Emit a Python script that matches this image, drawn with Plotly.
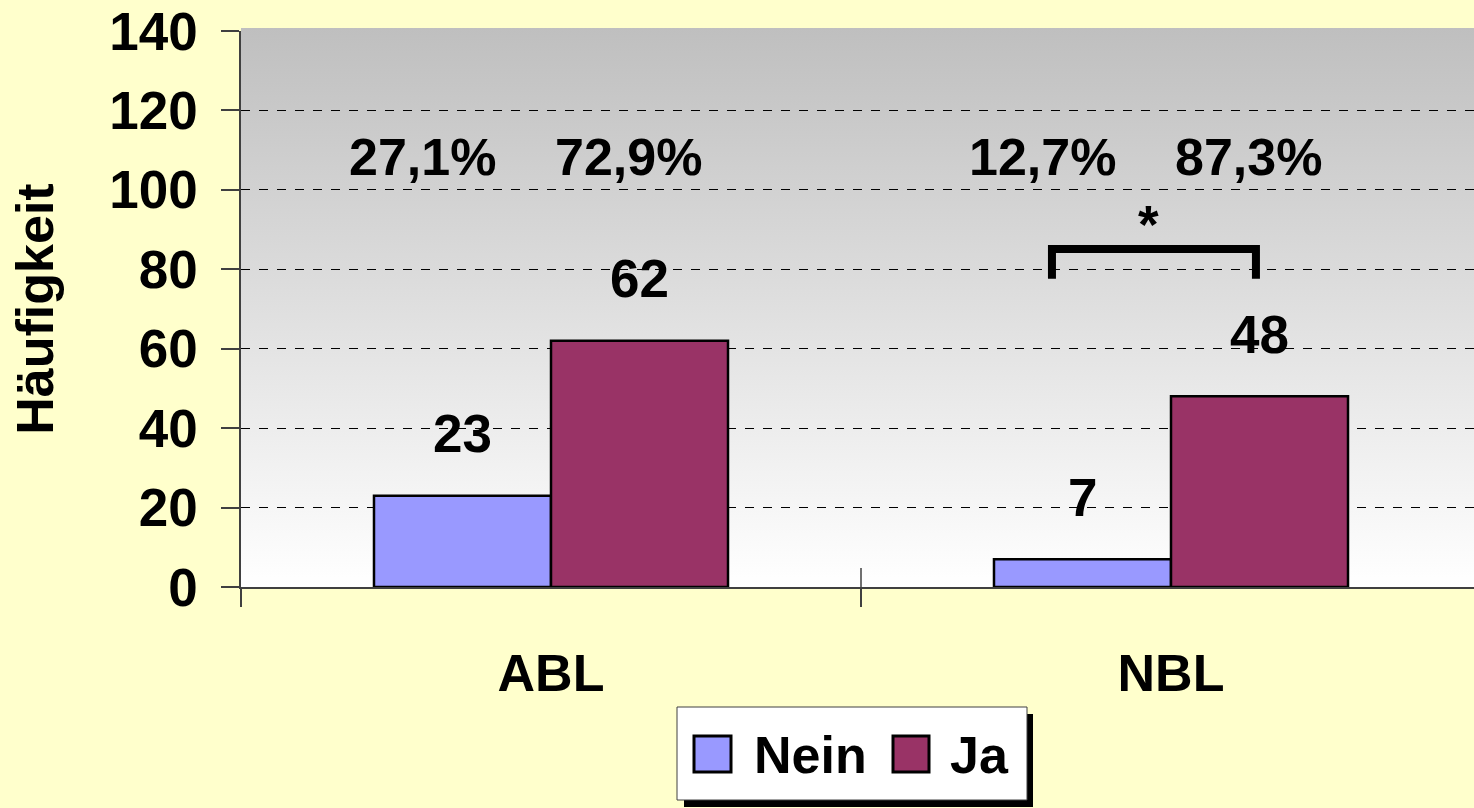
import base64
import plotly.graph_objects as go

categories = ["ABL", "NBL"]
series_names = ["Nein", "Ja"]
nein_values = [23, 7]
ja_values = [62, 48]
series_colors = ["#9999FF", "#993366"]
y_ticks = [0, 20, 40, 60, 80, 100, 120, 140]

FONT = "Liberation Sans, Arial, sans-serif"
W, H = 1474, 808
ML, MT, MB = 241, 31, 221
PW = W - ML
PH = H - MT - MB
CAT_PX = 620.0
BARGAP = 0.429

fig = go.Figure()
for name, vals, col in zip(series_names, [nein_values, ja_values], series_colors):
    fig.add_trace(go.Bar(
        x=categories, y=vals, name=name,
        marker=dict(color=col, line=dict(color="black", width=2.5)),
        showlegend=False,
    ))

# smooth gradient background via svg image
svg = ('<svg xmlns="http://www.w3.org/2000/svg" width="100" height="100" preserveAspectRatio="none">'
       '<defs><linearGradient id="g" x1="0" y1="0" x2="0" y2="1">'
       '<stop offset="0" stop-color="#BFBFBF"/><stop offset="1" stop-color="#FFFFFF"/>'
       '</linearGradient></defs><rect width="100" height="100" fill="url(#g)"/></svg>')
svg_uri = "data:image/svg+xml;base64," + base64.b64encode(svg.encode()).decode()
ext = 3 / PH
images = [dict(source=svg_uri, xref="paper", yref="paper", x=0, y=1 + ext,
               sizex=1, sizey=1 + ext, sizing="stretch", xanchor="left", yanchor="top",
               layer="below")]

shapes = []
annotations = []
half = (1 - BARGAP) / 4.0
totals = [a + b for a, b in zip(nein_values, ja_values)]
for i, cat in enumerate(categories):
    for j, vals in enumerate([nein_values, ja_values]):
        xc = i + (-half if j == 0 else half)
        annotations.append(dict(x=xc, y=vals[i], xref="x", yref="y", text=str(vals[i]),
                                showarrow=False, yanchor="middle", yshift=62,
                                font=dict(family=FONT, size=53, color="black", weight="bold")))
        pct = vals[i] / totals[i] * 100
        pct_txt = f"{pct:.1f}%".replace(".", ",")
        xo = -0.208 if j == 0 else 0.125
        annotations.append(dict(x=i + xo, y=107.5, xref="x", yref="y", text=pct_txt,
                                showarrow=False, yanchor="middle", yshift=3,
                                font=dict(family=FONT, size=52, color="black", weight="bold")))

# significance bracket
shapes.append(dict(type="path", xref="x", yref="y",
                   path="M 0.808,77.6 L 0.808,85.1 L 1.137,85.1 L 1.137,77.6",
                   line=dict(color="black", width=8)))
annotations.append(dict(x=0.963, y=92.7, xref="x", yref="y", text="*", showarrow=False,
                        yanchor="middle", yshift=-6,
                        font=dict(family=FONT, size=53, color="black", weight="bold")))

# cross tick upward part at category boundary
shapes.append(dict(type="line", xref="x", yref="paper", x0=0.5, x1=0.5, y0=0, y1=19 / PH,
                   line=dict(color="#404040", width=1.5)))

# custom legend
def px_x(px):
    return (px - ML) / PW

def px_y(py):
    return (H - MB - py) / PH

shapes.append(dict(type="rect", xref="paper", yref="paper", x0=px_x(684), x1=px_x(1033),
                   y0=px_y(807), y1=px_y(714), fillcolor="black", line=dict(width=0)))
shapes.append(dict(type="rect", xref="paper", yref="paper", x0=px_x(677), x1=px_x(1027),
                   y0=px_y(800), y1=px_y(707), fillcolor="white", line=dict(color="#404040", width=1)))
legend_sq = [(694, 731), (893, 929)]
legend_txt_x = [752, 948]
for (sx0, sx1), tx, name, col in zip(legend_sq, legend_txt_x, series_names, series_colors):
    shapes.append(dict(type="rect", xref="paper", yref="paper", x0=px_x(sx0), x1=px_x(sx1),
                       y0=px_y(772), y1=px_y(736), fillcolor=col, line=dict(color="black", width=3)))
    annotations.append(dict(x=px_x(tx), y=px_y(755), xref="paper", yref="paper", text=name,
                            showarrow=False, xanchor="left", yanchor="middle",
                            font=dict(family=FONT, size=52, color="black", weight="bold")))

fig.update_layout(
    width=W, height=H,
    margin=dict(l=ML, r=0, t=MT, b=MB, pad=0),
    paper_bgcolor="#FFFFCC",
    plot_bgcolor="rgba(0,0,0,0)",
    barmode="group", bargap=BARGAP, bargroupgap=0,
    shapes=shapes, annotations=annotations, images=images,
    showlegend=False,
    xaxis=dict(
        type="category", categoryorder="array", categoryarray=categories,
        range=[-0.5, -0.5 + PW / CAT_PX],
        showline=True, linecolor="#404040", linewidth=1.5,
        ticks="outside", tickson="boundaries", ticklen=18, tickcolor="#404040", tickwidth=1.5,
        tickfont=dict(family=FONT, size=52, color="black", weight="bold"),
        ticklabelstandoff=40,
        showgrid=False, zeroline=False,
    ),
    yaxis=dict(
        range=[0, 140], tickvals=y_ticks,
        showline=True, linecolor="#404040", linewidth=1.5,
        ticks="outside", ticklen=18, tickcolor="#404040", tickwidth=1.5,
        tickfont=dict(family=FONT, size=53, color="black", weight="bold"),
        ticklabelstandoff=13,
        showgrid=True, gridcolor="black", gridwidth=1, griddash="dash",
        zeroline=False,
        title=dict(text="Häufigkeit", standoff=39,
                   font=dict(family=FONT, size=52, color="black", weight="bold")),
    ),
)

fig.write_html("out.html", config={"displayModeBar": False},
               post_script="document.body.style.margin='0';document.body.style.overflow='hidden';")
